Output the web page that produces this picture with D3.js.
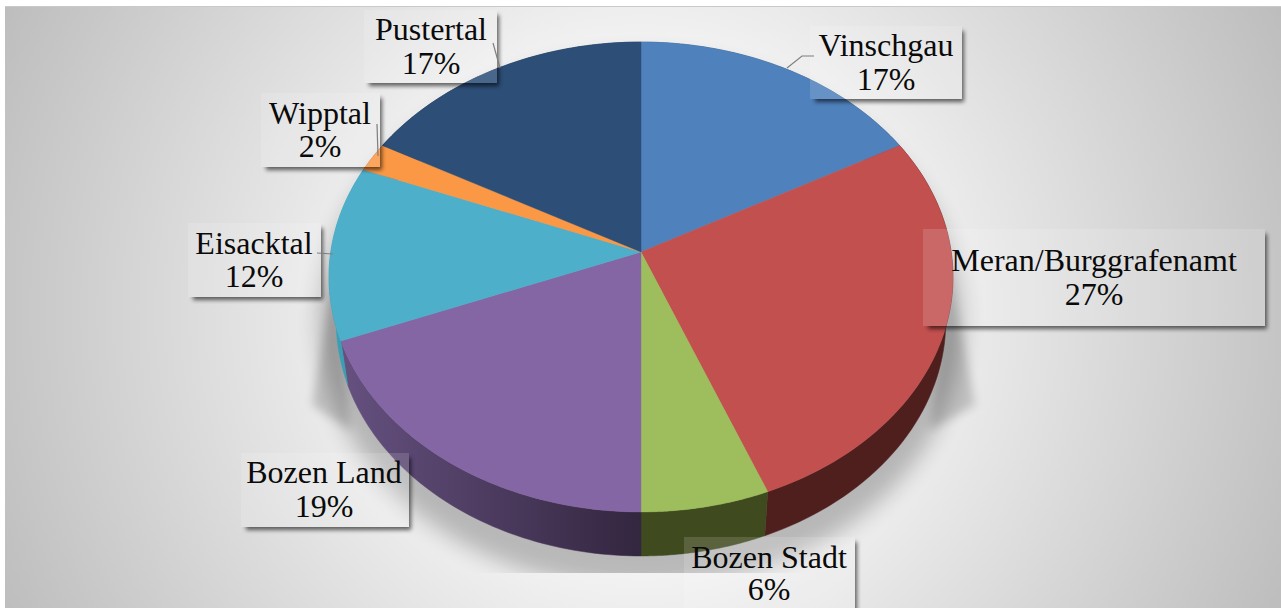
<!DOCTYPE html>
<html>
<head>
<meta charset="utf-8">
<script src="https://d3js.org/d3.v7.min.js"></script>
<style>
  html, body { margin: 0; padding: 0; background: #fff; overflow: hidden; }
  text { font-family: "Liberation Serif", serif; font-size: 32px; fill: #0a0a0a; text-anchor: middle; }
</style>
</head>
<body>
<div id="container"></div>
<script>
/* DATA */
const categories = ["Vinschgau", "Meran/Burggrafenamt", "Bozen Stadt", "Bozen Land", "Eisacktal", "Wipptal", "Pustertal"];
const shares = [17, 27, 6, 19, 12, 2, 17];

const topColors = ["#4f81bd", "#c2504e", "#9ebd5c", "#8566a5", "#4eafca", "#fb9845", "#2c4e77"];
const sideColors = ["#35567e", "#4f1f1e", "#3f4a1f", "url(#purpleSide)", "#3a9fb5", "#a8632b", "#1d3450"];

/* LAYOUT */
const width = 1281,
  height = 608,
  apex = {x: 641, y: 252},
  tilt = 0.1064,       // perspective of the pie plane
  radiusX = 310.2,
  radiusY = 232.3,
  depth = 44,
  depthScale = 0.977;

// label boxes: left, top, right, bottom, centre of text, two baselines
const labelBoxes = [
  {name: "Vinschgau", x0: 810, y0: 26, x1: 962, y1: 99, cx: 886, b1: 56, b2: 90},
  {name: "Meran/Burggrafenamt", x0: 923, y0: 229, x1: 1265, y1: 326, cx: 1094, b1: 271, b2: 305},
  {name: "Bozen Stadt", x0: 684, y0: 537, x1: 855, y1: 612, cx: 769, b1: 568, b2: 600},
  {name: "Bozen Land", x0: 241, y0: 453, x1: 409, y1: 527, cx: 324, b1: 483, b2: 517},
  {name: "Eisacktal", x0: 188, y0: 223, x1: 321, y1: 297, cx: 254, b1: 254, b2: 287},
  {name: "Wipptal", x0: 261, y0: 93, x1: 380, y1: 167, cx: 320, b1: 124, b2: 157},
  {name: "Pustertal", x0: 364, y0: 10, x1: 497, y1: 83, cx: 431, b1: 40, b2: 74}
];

const leaders = [
  [[787, 68], [802, 56], [814, 56]],
  [[493, 43], [500, 68]],
  [[377, 124], [378, 156]],
  [[317, 253], [333, 254]]
];

const svg = d3.select("#container")
  .append("svg")
  .attr("width", width)
  .attr("height", height)
  .style("display", "block");

const defs = svg.append("defs");

const bgGrad = defs.append("radialGradient")
  .attr("id", "bg")
  .attr("gradientUnits", "userSpaceOnUse")
  .attr("cx", 641).attr("cy", 310).attr("r", 715);
bgGrad.append("stop").attr("offset", 0.22).attr("stop-color", "#ffffff");
bgGrad.append("stop").attr("offset", 1).attr("stop-color", "#bcbcbc");

const purple = defs.append("linearGradient")
  .attr("id", "purpleSide")
  .attr("gradientUnits", "userSpaceOnUse")
  .attr("x1", 345).attr("x2", 641).attr("y1", 0).attr("y2", 0);
purple.append("stop").attr("offset", 0).attr("stop-color", "#65507f");
purple.append("stop").attr("offset", 1).attr("stop-color", "#33263f");

defs.append("filter").attr("id", "blurWide")
  .attr("x", "-20%").attr("y", "-20%").attr("width", "140%").attr("height", "140%")
  .append("feGaussianBlur").attr("stdDeviation", 11);
defs.append("filter").attr("id", "blurMid")
  .attr("x", "-60%").attr("y", "-20%").attr("width", "220%").attr("height", "140%")
  .append("feGaussianBlur").attr("stdDeviation", 5);
defs.append("filter").attr("id", "blurBox")
  .attr("x", "-10%").attr("y", "-20%").attr("width", "120%").attr("height", "140%")
  .append("feGaussianBlur").attr("stdDeviation", 2);

defs.append("clipPath").attr("id", "plotClip")
  .append("rect").attr("x", 5).attr("y", 7).attr("width", width - 5).attr("height", 566);

// background
svg.append("rect")
  .attr("x", 5).attr("y", 7)
  .attr("width", width - 5).attr("height", height - 7)
  .attr("fill", "url(#bg)");
svg.append("line")
  .attr("x1", 5).attr("x2", width)
  .attr("y1", 6.5).attr("y2", 6.5)
  .attr("stroke", "#c9c9c9");

/* PIE */
const rows = categories.map((c, i) => ({name: c, value: shares[i], top: topColors[i], side: sideColors[i]}));
const arcs = d3.pie().sort(null).value(d => d.value)(rows);

// circle angle -> point on the tilted top face
function project(angle) {
  const w = 1 + tilt * Math.cos(angle);
  return [apex.x + radiusX * Math.sin(angle) / w, apex.y - radiusY * Math.cos(angle) / w];
}
// same rim point on the bottom face
function lower(p) {
  return [apex.x + (p[0] - apex.x) * depthScale, p[1] + depth];
}
function rim(a) {
  return d3.range(0, 61).map(k => project(a.startAngle + (a.endAngle - a.startAngle) * k / 60));
}
const line = d3.line();

// soft shadow under the pie
const shadow = svg.append("g").attr("clip-path", "url(#plotClip)");
shadow.append("ellipse")
  .attr("cx", apex.x).attr("cy", 322)
  .attr("rx", 322).attr("ry", 266)
  .attr("fill", "#000").attr("opacity", 0.24)
  .attr("filter", "url(#blurWide)");
shadow.append("path")
  .attr("d", line([[335, 268], [312, 405], [350, 430]]) + "Z")
  .attr("fill", "#000").attr("opacity", 0.17)
  .attr("filter", "url(#blurMid)");
shadow.append("path")
  .attr("d", line([[950, 268], [975, 405], [930, 430]]) + "Z")
  .attr("fill", "#000").attr("opacity", 0.17)
  .attr("filter", "url(#blurMid)");

// walls first, the top face covers whatever is at the back
svg.append("g").selectAll("path")
  .data(arcs)
  .join("path")
  .attr("d", d => {
    const r = rim(d);
    return line(r.concat(r.slice().reverse().map(lower))) + "Z";
  })
  .attr("fill", d => d.data.side)
  .attr("stroke", d => d.data.side)
  .attr("stroke-width", 0.5);

svg.append("g").selectAll("path")
  .data(arcs)
  .join("path")
  .attr("d", d => line([[apex.x, apex.y]].concat(rim(d))) + "Z")
  .attr("fill", d => d.data.top)
  .attr("stroke", d => d.data.top)
  .attr("stroke-width", 0.4);

/* LABELS */
const boxes = svg.append("g").selectAll("g")
  .data(labelBoxes)
  .join("g");

// shadow only shows outside of its own box
boxes.each(function (b, i) {
  defs.append("clipPath").attr("id", "outside" + i)
    .append("path")
    .attr("clip-rule", "evenodd")
    .attr("d", `M0 0H${width}V${height}H0Z M${b.x0} ${b.y0}H${b.x1}V${b.y1}H${b.x0}Z`);
});
boxes.append("g")
  .attr("clip-path", (b, i) => `url(#outside${i})`)
  .append("rect")
  .attr("x", b => b.x0 + 5).attr("y", b => b.y0 + 5)
  .attr("width", b => b.x1 - b.x0 - 3).attr("height", b => b.y1 - b.y0 - 2)
  .attr("fill", "#000").attr("opacity", 0.6)
  .attr("filter", "url(#blurBox)");
boxes.append("rect")
  .attr("x", b => b.x0).attr("y", b => b.y0)
  .attr("width", b => b.x1 - b.x0).attr("height", b => b.y1 - b.y0)
  .attr("fill", "#fff").attr("opacity", 0.14);

svg.append("g").selectAll("path")
  .data(leaders)
  .join("path")
  .attr("d", d => line(d))
  .attr("fill", "none")
  .attr("stroke", "#7f7f7f")
  .attr("stroke-width", 1.2);

boxes.append("text")
  .attr("x", b => b.cx).attr("y", b => b.b1)
  .text(b => b.name);
boxes.append("text")
  .attr("x", b => b.cx).attr("y", b => b.b2)
  .text(b => shares[categories.indexOf(b.name)] + "%");
</script>
</body>
</html>
